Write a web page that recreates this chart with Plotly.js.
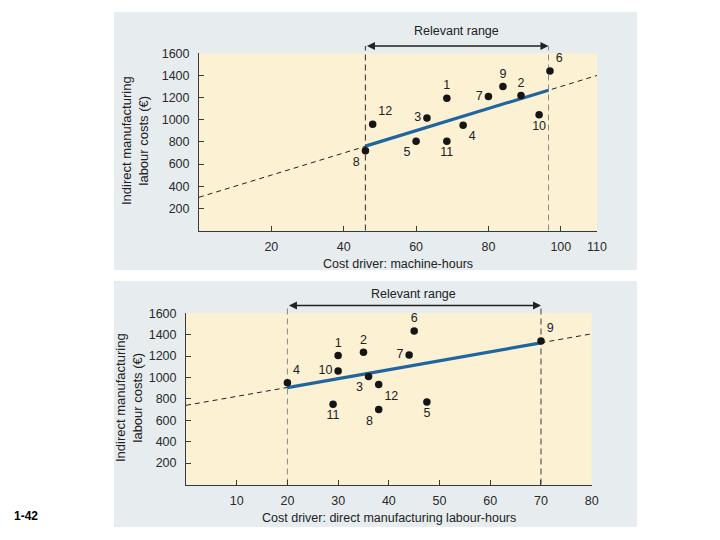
<!DOCTYPE html>
<html>
<head>
<meta charset="utf-8">
<script src="https://cdn.plot.ly/plotly-3.0.1.min.js"></script>
<style>
  html, body { margin: 0; padding: 0; background: #ffffff; }
  #chart { width: 720px; height: 540px; }
</style>
</head>
<body>
<div id="chart"></div>
<script>
// ---------- data ----------
const weekLabels = ['1', '2', '3', '4', '5', '6', '7', '8', '9', '10', '11', '12'];

// Panel A: cost driver = machine-hours
const machineHours   = [68.5, 89, 63, 73, 60, 97, 80, 46, 84, 94, 68.5, 48];
const costsByMH      = [1195, 1220, 1015, 950, 805, 1440, 1210, 720, 1300, 1045, 805, 960];
const mhRelevant     = [46, 96.6];      // relevant range (machine-hours)
const mhFitCosts     = [762, 1267];     // fitted line inside relevant range
const mhExtHours     = [0, 110];        // extrapolated (dashed) line
const mhExtCosts     = [300, 1400];
const mhTickVals     = [20, 40, 60, 80, 100, 110];

// Panel B: cost driver = direct manufacturing labour-hours
const labourHours    = [30, 35, 36, 20, 47.5, 45, 44, 38, 70, 30, 29, 38];
const costsByLH      = [1205, 1235, 1010, 950, 770, 1435, 1210, 700, 1340, 1060, 750, 935];
const lhRelevant     = [20, 70];
const lhFitCosts     = [906, 1324];
const lhExtHours     = [0, 80];
const lhExtCosts     = [740, 1408];
const lhTickVals     = [10, 20, 30, 40, 50, 60, 70, 80];

const costTickVals   = [200, 400, 600, 800, 1000, 1200, 1400, 1600];

const yTitle  = 'Indirect manufacturing<br>labour costs (€)';
const xTitleA = 'Cost driver: machine-hours';
const xTitleB = 'Cost driver: direct manufacturing labour-hours';
const rangeLabel = 'Relevant range';
const pageLabel = '1-42';

// ---------- styling ----------
const W = 720, H = 540;
const px = p => p / W;
const py = p => 1 - p / H;
const FONT = 'Liberation Sans, Arial, Helvetica, sans-serif';
const INK = '#222222';
const PANEL = '#e7ecef';
const PLOTBG = '#fcf1d3';
const BLUE = '#1f65a0';

const posA = ['top center','top center','middle left','bottom right','bottom left','top right',
              'middle left','bottom left','top center','bottom center','bottom center','top right'];
const posB = ['top center','top center','bottom left','top right','bottom center','top center',
              'middle left','bottom left','top right','middle left','bottom center','bottom right'];

// plot areas (pixels)
const A = {l: 199, r: 597, t: 53.3, b: 230.5, arrowY: 46};
const B = {l: 186, r: 591.7, t: 313.3, b: 484.5, arrowY: 305.5};

const traces = [
  // panel A
  {x: mhExtHours, y: mhExtCosts, xaxis: 'x', yaxis: 'y', mode: 'lines',
   line: {color: '#222', width: 1, dash: '5px,4px'}, hoverinfo: 'skip'},
  {x: mhRelevant, y: mhFitCosts, xaxis: 'x', yaxis: 'y', mode: 'lines',
   line: {color: BLUE, width: 3.2}, hoverinfo: 'skip'},
  {x: machineHours, y: costsByMH, text: weekLabels, xaxis: 'x', yaxis: 'y',
   mode: 'markers+text', textposition: posA, cliponaxis: false,
   marker: {color: '#151515', size: 7.5},
   textfont: {family: FONT, size: 12.5, color: INK}},
  // panel B
  {x: lhExtHours, y: lhExtCosts, xaxis: 'x2', yaxis: 'y2', mode: 'lines',
   line: {color: '#222', width: 1, dash: '5px,4px'}, hoverinfo: 'skip'},
  {x: lhRelevant, y: lhFitCosts, xaxis: 'x2', yaxis: 'y2', mode: 'lines',
   line: {color: BLUE, width: 3.2}, hoverinfo: 'skip'},
  {x: labourHours, y: costsByLH, text: weekLabels, xaxis: 'x2', yaxis: 'y2',
   mode: 'markers+text', textposition: posB, cliponaxis: false,
   marker: {color: '#151515', size: 7.5},
   textfont: {family: FONT, size: 12.5, color: INK}}
];

const axisCommon = {
  showgrid: false, zeroline: false, showline: true, linecolor: '#3a3a3a', linewidth: 1,
  ticks: 'inside', ticklen: 5, tickcolor: '#3a3a3a', tickwidth: 1,
  tickfont: {family: FONT, size: 12.5, color: '#2a2a2a'}, fixedrange: true
};

const layout = {
  width: W, height: H,
  margin: {l: 0, r: 0, t: 0, b: 0},
  paper_bgcolor: '#ffffff',
  plot_bgcolor: 'rgba(0,0,0,0)',
  showlegend: false,
  font: {family: FONT, color: INK},
  xaxis: Object.assign({}, axisCommon, {
    domain: [px(A.l), px(A.r)], range: [0, 110], tickvals: mhTickVals, anchor: 'y',
    ticklabelstandoff: 4}),
  yaxis: Object.assign({}, axisCommon, {
    domain: [py(A.b), py(A.t)], range: [0, 1600], tickvals: costTickVals, anchor: 'x',
    ticklabelstandoff: 6}),
  xaxis2: Object.assign({}, axisCommon, {
    domain: [px(B.l), px(B.r)], range: [0, 80], tickvals: lhTickVals, anchor: 'y2',
    ticklabelstandoff: 4}),
  yaxis2: Object.assign({}, axisCommon, {
    domain: [py(B.b), py(B.t)], range: [0, 1600], tickvals: costTickVals, anchor: 'x2',
    ticklabelstandoff: 6}),
  shapes: [
    // grey panels
    {type: 'rect', xref: 'paper', yref: 'paper', x0: px(114), x1: px(637), y0: py(270), y1: py(12),
     fillcolor: PANEL, line: {width: 0}, layer: 'below'},
    {type: 'rect', xref: 'paper', yref: 'paper', x0: px(114), x1: px(637), y0: py(527), y1: py(281),
     fillcolor: PANEL, line: {width: 0}, layer: 'below'},
    // yellow plot areas
    {type: 'rect', xref: 'paper', yref: 'paper', x0: px(A.l), x1: px(A.r), y0: py(A.b), y1: py(A.t),
     fillcolor: PLOTBG, line: {width: 0}, layer: 'below'},
    {type: 'rect', xref: 'paper', yref: 'paper', x0: px(B.l), x1: px(B.r), y0: py(B.b), y1: py(B.t),
     fillcolor: PLOTBG, line: {width: 0}, layer: 'below'},
    // relevant-range boundaries
    {type: 'line', xref: 'x', yref: 'paper', x0: mhRelevant[0], x1: mhRelevant[0], y0: py(A.b), y1: py(A.arrowY),
     line: {color: '#4a4a4a', width: 1.2, dash: '6px,4px'}, layer: 'between'},
    {type: 'line', xref: 'x', yref: 'paper', x0: mhRelevant[1], x1: mhRelevant[1], y0: py(A.b), y1: py(A.arrowY),
     line: {color: '#8a8a8a', width: 1, dash: '6px,4px'}, layer: 'between'},
    {type: 'line', xref: 'x2', yref: 'paper', x0: lhRelevant[0], x1: lhRelevant[0], y0: py(B.b), y1: py(B.arrowY),
     line: {color: '#8a8a8a', width: 1, dash: '6px,4px'}, layer: 'between'},
    {type: 'line', xref: 'x2', yref: 'paper', x0: lhRelevant[1], x1: lhRelevant[1], y0: py(B.b), y1: py(B.arrowY),
     line: {color: '#5a5a5a', width: 1.2, dash: '6px,4px'}, layer: 'between'}
  ],
  annotations: [
    // arrows
    {xref: 'x', yref: 'paper', x: mhRelevant[1], y: py(A.arrowY), axref: 'x', ayref: 'pixel',
     ax: mhRelevant[0], ay: 0, text: '', showarrow: true, arrowside: 'end+start',
     arrowhead: 2, arrowsize: 1, arrowwidth: 1.6, arrowcolor: '#222'},
    {xref: 'x2', yref: 'paper', x: lhRelevant[1], y: py(B.arrowY), axref: 'x2', ayref: 'pixel',
     ax: lhRelevant[0], ay: 0, text: '', showarrow: true, arrowside: 'end+start',
     arrowhead: 2, arrowsize: 1, arrowwidth: 1.6, arrowcolor: '#222'},
    // range labels
    {xref: 'paper', yref: 'paper', x: px(456), y: py(31), text: rangeLabel, showarrow: false,
     font: {family: FONT, size: 12.5, color: INK}, xanchor: 'center', yanchor: 'middle'},
    {xref: 'paper', yref: 'paper', x: px(413), y: py(294), text: rangeLabel, showarrow: false,
     font: {family: FONT, size: 12.5, color: INK}, xanchor: 'center', yanchor: 'middle'},
    // x titles
    {xref: 'paper', yref: 'paper', x: px(398), y: py(264), text: xTitleA, showarrow: false,
     font: {family: FONT, size: 12.5, color: INK}, xanchor: 'center', yanchor: 'middle'},
    {xref: 'paper', yref: 'paper', x: px(389), y: py(518), text: xTitleB, showarrow: false,
     font: {family: FONT, size: 12.5, color: INK}, xanchor: 'center', yanchor: 'middle'},
    // y titles
    {xref: 'paper', yref: 'paper', x: px(135), y: py(141), text: yTitle, showarrow: false, textangle: -90,
     font: {family: FONT, size: 13, color: INK}, xanchor: 'center', yanchor: 'middle'},
    {xref: 'paper', yref: 'paper', x: px(129), y: py(398), text: yTitle, showarrow: false, textangle: -90,
     font: {family: FONT, size: 13, color: INK}, xanchor: 'center', yanchor: 'middle'},
    // page number
    {xref: 'paper', yref: 'paper', x: px(26), y: py(516), text: '<b>' + pageLabel + '</b>', showarrow: false,
     font: {family: FONT, size: 12, color: '#000'}, xanchor: 'center', yanchor: 'middle'}
  ]
};

Plotly.newPlot('chart', traces, layout, {staticPlot: true, displayModeBar: false});
</script>
</body>
</html>
